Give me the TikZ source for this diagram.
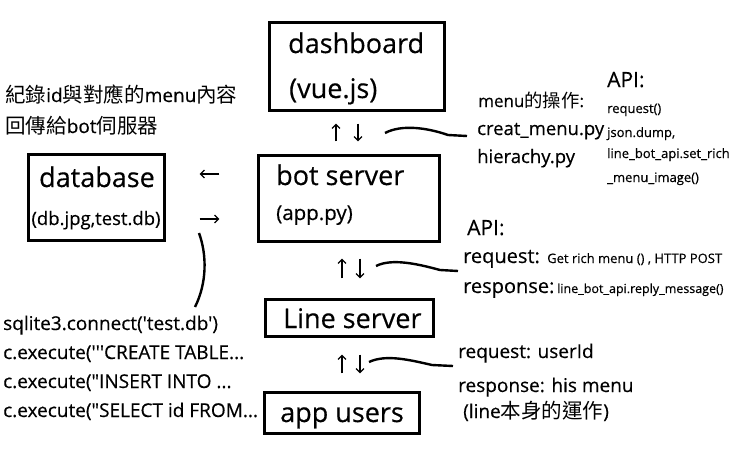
\documentclass[tikz,border=0pt]{standalone}
\usepackage{fontspec}
\setmainfont{Open Sans}[Ligatures=TeXReset,FakeBold=0.4]
\newfontfamily\cjk{Noto Sans CJK TC}[Scale=1.08]
\usetikzlibrary{arrows.meta}
\begin{document}
\begin{tikzpicture}[x=1pt,y=-1pt,
  box/.style={draw,line width=3.2pt,inner sep=0pt},
  txt/.style={anchor=base west,inner sep=0pt},
  big/.style={font=\fontsize{27}{32}\selectfont},
  mid/.style={font=\fontsize{19}{23}\selectfont},
  small/.style={font=\fontsize{13}{16}\selectfont},
  api/.style={font=\fontsize{21}{25}\selectfont},
  tip/.style={line width=1.2pt,-{Straight Barb[length=4pt,width=8pt]}},
  wave/.style={line width=2.4pt}]
\fill[white] (0,0) rectangle (736,458);
\useasboundingbox (0,0) rectangle (736,458);
\node[box,minimum width=175,minimum height=88] (dash) at (357,66.5) {};
\node[box,minimum width=181,minimum height=86] (bot) at (349,198.5) {};
\node[box,minimum width=136,minimum height=86] (db) at (96.5,197.5) {};
\node[box,minimum width=168,minimum height=37] (line) at (349.5,318) {};
\node[box,minimum width=155,minimum height=41] (app) at (342,413) {};
\node[txt,big] (dashname) at (288,53) {dashboard};
\node[txt,big] (vue) at (289,98) {(vue.js)};
\node[txt,big] (botname) at (276,185) {bot server};
\node[txt,font=\fontsize{20.5}{24}\selectfont] (apppy) at (276,220) {(app.py)};
\node[anchor=base,inner sep=0pt,big] (dbname) at (97,187) {database};
\node[anchor=base,inner sep=0pt,font=\fontsize{18.5}{22}\selectfont] (dbfile) at (96,225) {(db.jpg,test.db)};
\node[txt,big] (linename) at (283,328) {Line server};
\node[txt,big] (appname) at (280,422) {app users};
\node[txt,mid] (rec) at (5,102) {{\cjk 紀錄}id{\cjk 與對應的}menu{\cjk 內容}};
\node[txt,mid] (ret) at (5,133) {{\cjk 回傳給}bot{\cjk 伺服器}};
\node[txt,font=\fontsize{17}{21}\selectfont] (menuop) at (478,107) {menu{\cjk 的操作}:};
\node[txt,font=\fontsize{18.5}{22}\selectfont] (creat) at (477,135) {creat\_menu.py};
\node[txt,font=\fontsize{18.5}{22}\selectfont] (hier) at (477,163) {hierachy.py};
\node[txt,api] (apia) at (607,87) {API:};
\node[txt,small] (reqa) at (607,113) {request()};
\node[txt,small] (json) at (607,137) {json.dump,};
\node[txt,small] (setrich) at (607,158) {line\_bot\_api.set\_rich};
\node[txt,small] (menuimg) at (607,182) {\_menu\_image()};
\node[txt,api] (apib) at (467,235) {API:};
\node[txt,font=\fontsize{20}{24}\selectfont] (reqb) at (463,263) {request:};
\node[txt,small] (getrich) at (547,263) {Get rich menu () , HTTP POST};
\node[txt,font=\fontsize{20}{24}\selectfont] (resb) at (463,293) {response:};
\node[txt,font=\fontsize{12.5}{15}\selectfont] (reply) at (557,293) {line\_bot\_api.reply\_message()};
\node[txt,mid] (uid) at (458,358) {request: userId};
\node[txt,mid] (his) at (458,392) {response: his menu};
\node[txt,mid] (self) at (463,418) {(line{\cjk 本身的運作})};
\node[txt,mid] (sql) at (3,330) {sqlite3.connect('test.db')};
\node[txt,mid] (create) at (3,359) {c.execute('''CREATE TABLE...};
\node[txt,mid] (insert) at (3,388) {c.execute("INSERT INTO ...};
\node[txt,mid] (select) at (3,417) {c.execute("SELECT id FROM...};
\draw[tip,shorten <=12.5pt,shorten >=11.5pt] ([xshift=-13]bot.north) -- ([xshift=-21]dash.south);
\draw[tip,shorten <=11.5pt,shorten >=12.5pt] ([xshift=1]dash.south) -- ([xshift=9]bot.north);
\draw[tip,shorten <=19.5pt,shorten >=15.5pt] ([xshift=-7.5]line.north) -- ([xshift=-7]bot.south);
\draw[tip,shorten <=15.5pt,shorten >=19.5pt] ([xshift=11]bot.south) -- ([xshift=10.5]line.north);
\draw[tip,shorten <=17.5pt,shorten >=16.5pt] (app.north) -- ([xshift=-7.5]line.south);
\draw[tip,shorten <=16.5pt,shorten >=17.5pt] ([xshift=10.5]line.south) -- ([xshift=18]app.north);
\draw[tip,shorten <=37.5pt,shorten >=33.5pt] ([yshift=24.5]bot.west) -- ([yshift=23.5]db.east);
\draw[tip,shorten <=33.5pt,shorten >=37.5pt] ([yshift=-21.5]db.east) -- ([yshift=-20.5]bot.west);
\coordinate (w1) at (385,133);
\coordinate (w2) at (376,266);
\coordinate (w3) at (369,362);
\coordinate (w4) at (199,233);
\draw[wave] (w1) .. controls (402,124) and (428,128) .. (448,135) -- ([xshift=-10,yshift=-1]creat.base west);
\draw[wave] (w2) .. controls (392,258) and (418,264) .. (440,270) -- ([xshift=-5,yshift=-8]reqb.base west);
\draw[wave] (w3) .. controls (386,354) and (410,360) .. (432,365) -- ([xshift=-5,yshift=-8]uid.base west);
\draw[wave] (w4) .. controls (207,255) and (207,283) .. ([xshift=192,yshift=23]sql.base west);
\end{tikzpicture}
\end{document}
